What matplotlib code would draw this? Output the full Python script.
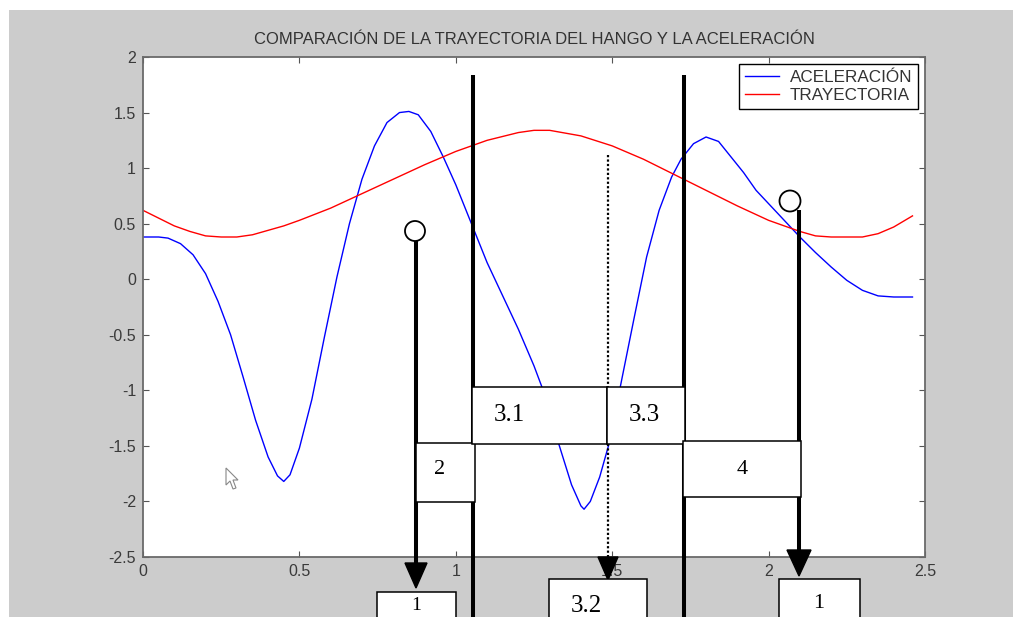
import matplotlib
matplotlib.use("Agg")
import matplotlib.pyplot as plt
from matplotlib.patches import Rectangle, Polygon, Circle
from matplotlib.lines import Line2D
from matplotlib.transforms import Affine2D

# ---------------- data ----------------
acel_x = [0.00, 0.05, 0.08, 0.12, 0.16, 0.20, 0.24, 0.28, 0.32, 0.36, 0.40, 0.43, 0.45,
          0.47, 0.50, 0.54, 0.58, 0.62, 0.66, 0.70, 0.74, 0.78, 0.82, 0.85, 0.88, 0.92,
          0.96, 1.00, 1.05, 1.10, 1.15, 1.20, 1.25, 1.29, 1.33, 1.37, 1.40, 1.41, 1.43,
          1.46, 1.49, 1.53, 1.57, 1.61, 1.65, 1.69, 1.72, 1.76, 1.80, 1.84, 1.88, 1.92,
          1.96, 2.00, 2.05, 2.10, 2.15, 2.20, 2.25, 2.30, 2.35, 2.40, 2.46]
acel_y = [0.38, 0.38, 0.37, 0.32, 0.22, 0.05, -0.20, -0.50, -0.88, -1.27, -1.60, -1.77, -1.82,
          -1.76, -1.52, -1.08, -0.52, 0.02, 0.50, 0.90, 1.20, 1.41, 1.50, 1.51, 1.48, 1.33,
          1.10, 0.85, 0.50, 0.15, -0.15, -0.45, -0.78, -1.08, -1.49, -1.85, -2.04, -2.07, -2.00,
          -1.78, -1.48, -0.91, -0.35, 0.20, 0.62, 0.92, 1.08, 1.22, 1.28, 1.24, 1.10, 0.96,
          0.80, 0.68, 0.53, 0.38, 0.24, 0.11, -0.01, -0.10, -0.15, -0.16, -0.16]

tray_x = [0.00, 0.05, 0.10, 0.15, 0.20, 0.25, 0.30, 0.35, 0.40, 0.45, 0.50, 0.60, 0.70,
          0.80, 0.90, 1.00, 1.10, 1.20, 1.25, 1.30, 1.40, 1.50, 1.60, 1.70, 1.80, 1.90,
          2.00, 2.10, 2.15, 2.20, 2.30, 2.35, 2.40, 2.46]
tray_y = [0.62, 0.55, 0.48, 0.43, 0.39, 0.38, 0.38, 0.40, 0.44, 0.48, 0.53, 0.64, 0.77,
          0.90, 1.03, 1.15, 1.25, 1.32, 1.34, 1.34, 1.29, 1.20, 1.08, 0.94, 0.80, 0.66,
          0.53, 0.43, 0.39, 0.38, 0.38, 0.41, 0.47, 0.57]

x_ticks = [0, 0.5, 1, 1.5, 2, 2.5]
x_tick_labels = ["0", "0.5", "1", "1.5", "2", "2.5"]
y_ticks = [-2.5, -2, -1.5, -1, -0.5, 0, 0.5, 1, 1.5, 2]
y_tick_labels = ["-2.5", "-2", "-1.5", "-1", "-0.5", "0", "0.5", "1", "1.5", "2"]

title = "COMPARACIÓN DE LA TRAYECTORIA DEL HANGO Y LA ACELERACIÓN"
series_labels = ["ACELERACIÓN", "TRAYECTORIA"]
box_labels = ["2", "3.1", "3.3", "4", "1", "3.2", "1"]

# ---------------- figure ----------------
W, H = 1013, 617
plt.rcParams['font.family'] = ['Liberation Sans', 'DejaVu Sans']
fig = plt.figure(figsize=(W / 100, H / 100), dpi=100, facecolor='white')
# pixel (top-left origin) transform
T = Affine2D().scale(1 / W, -1 / H).translate(0, 1) + fig.transFigure

fig.patches.append(Rectangle((9, 10), W, H, transform=T, facecolor='#cccccc',
                             edgecolor='none', zorder=-10))

ax = fig.add_axes([143 / W, 60 / H, 782 / W, 500 / H])
ax.set_facecolor('white')
ax.plot(acel_x, acel_y, color='#0000ff', lw=1.0, label=series_labels[0])
ax.plot(tray_x, tray_y, color='#ff0000', lw=1.0, label=series_labels[1])
ax.set_xlim(0, 2.5)
ax.set_ylim(-2.5, 2)
ax.set_xticks(x_ticks)
ax.set_xticklabels(x_tick_labels)
ax.set_yticks(y_ticks)
ax.set_yticklabels(y_tick_labels)
ax.tick_params(direction='in', top=True, right=True, length=4, width=0.8,
               color='#555555', labelsize=11.5, labelcolor='#3a3a3a', pad=5)
for s in ax.spines.values():
    s.set_color('#6a6a6a')
    s.set_linewidth(1.3)
ax.set_title(title, fontsize=12, color='#333333', pad=9)

leg = ax.legend(loc='upper right', bbox_to_anchor=(918 / W, 1 - 64 / H),
                bbox_transform=fig.transFigure, fontsize=12.3, frameon=True,
                fancybox=False, framealpha=1, edgecolor='black', borderaxespad=0,
                handlelength=2.0, handletextpad=0.6, labelspacing=0.18,
                borderpad=0.35)
leg.get_frame().set_linewidth(1.0)
for t in leg.get_texts():
    t.set_color('#333333')

# ---------------- annotations (pixel coordinates) ----------------
Z = 20
def vline(x, y0, y1, lw=2.9, ls='-'):
    fig.add_artist(Line2D([x, x], [y0, y1], transform=T, color='black', lw=lw,
                          ls=ls, zorder=Z, solid_capstyle='butt'))

def head(x, ybase, ytip, half):
    fig.add_artist(Polygon([(x - half, ybase), (x + half, ybase), (x, ytip)],
                           closed=True, transform=T, facecolor='black',
                           edgecolor='black', zorder=Z + 1))

def box(x0, y0, x1, y1, label, tx, ty, fs):
    fig.add_artist(Rectangle((x0, y0), x1 - x0, y1 - y0, transform=T,
                             facecolor='white', edgecolor='black', lw=1.1,
                             zorder=Z + 2))
    fig.text(tx / W, 1 - ty / H, label, ha='center', va='center', fontsize=fs,
             family=['Liberation Serif', 'DejaVu Serif'], color='black',
             zorder=Z + 3)

# thick solid lines
vline(473, 75, 620)
vline(684, 75, 620)
# dotted line with arrow
vline(608, 155, 560, lw=1.6, ls=(0, (1, 1)))
head(608, 557, 580, 10)
# left arrow with circle
vline(416, 240, 565)
head(416, 563, 588, 11)
fig.add_artist(Circle((415, 231), 10, transform=T, facecolor='white',
                      edgecolor='black', lw=1.3, zorder=Z + 1))
# right arrow with circle
vline(799, 210, 552)
head(799, 550, 576, 12)
fig.add_artist(Circle((790, 201), 10.5, transform=T, facecolor='white',
                      edgecolor='black', lw=1.3, zorder=Z + 1))

box(416, 443, 475, 502, box_labels[0], 440, 469, 16)
box(472, 387, 607, 444, box_labels[1], 509, 415, 18)
box(607, 387, 685, 444, box_labels[2], 644, 415, 18)
box(683, 441, 801, 497, box_labels[3], 742, 469, 16)
box(377, 592, 456, 640, box_labels[4], 416, 606, 14)
box(549, 579, 647, 640, box_labels[5], 586, 606, 18)
box(779, 579, 860, 640, box_labels[6], 819, 604, 16)

# mouse cursor
fig.add_artist(Polygon([(226, 468), (226, 485), (230, 481), (233, 489), (236, 488),
                        (233, 480), (238, 480)], closed=True, transform=T,
                       facecolor='white', edgecolor='#888888', lw=0.8, zorder=Z))

fig.savefig('out.png', dpi=100, facecolor='white')
